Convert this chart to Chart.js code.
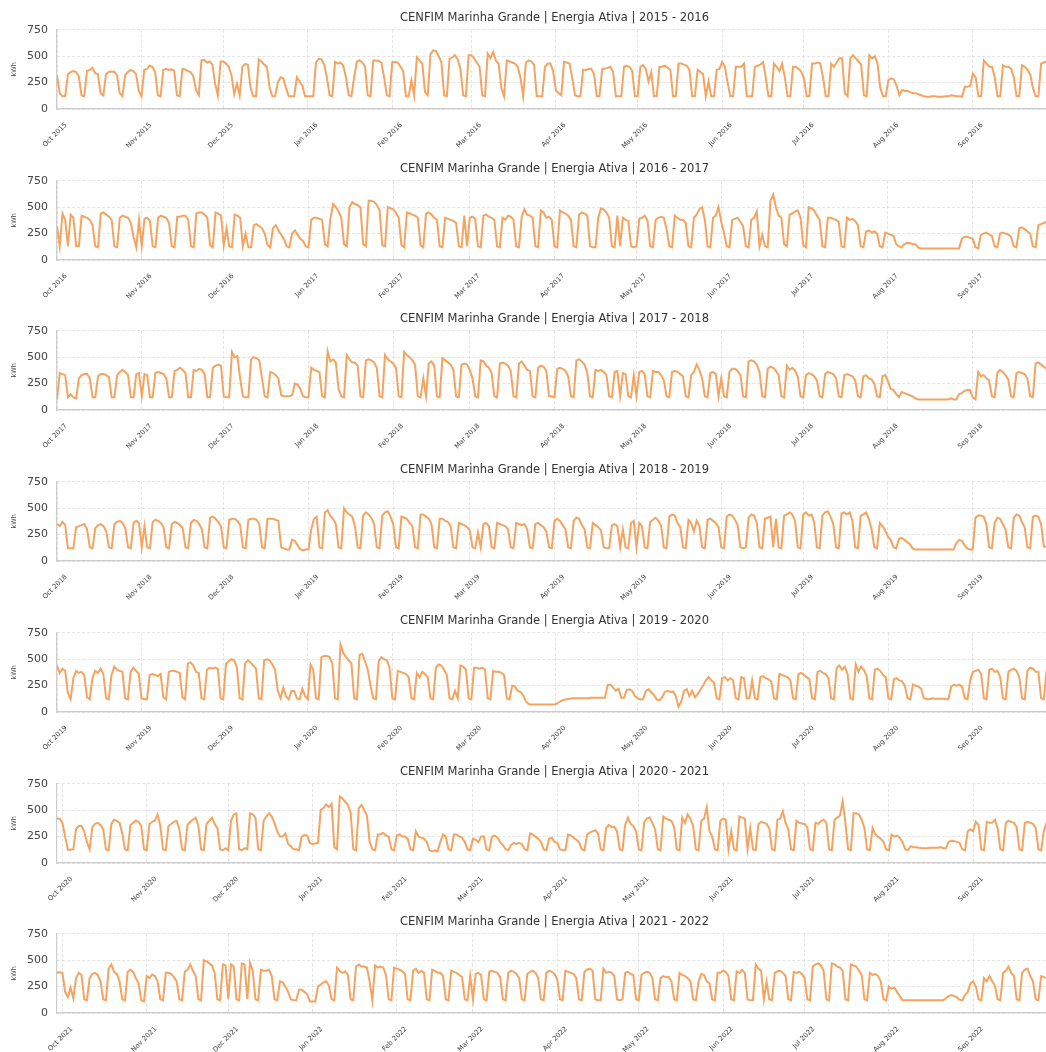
<!DOCTYPE html>
<html>
<head>
<meta charset="utf-8">
<title>CENFIM Marinha Grande | Energia Ativa</title>
<script src="https://cdn.jsdelivr.net/npm/chart.js@4.4.0/dist/chart.umd.min.js"></script>
<style>
  html, body { margin: 0; padding: 0; background: #fff; overflow: hidden; }
  #graficos { position: relative; width: 1046px; height: 1052px; overflow: hidden; }
  .painel { position: absolute; left: 0; }
</style>
</head>
<body>
<div id="graficos"></div>
<script>
// consumo diario (kWh), um ano de 1 Out a 30 Set; uma linha por semana (Seg..Dom)
const energia2015 = [
  320, 150, 120, 120,
  330, 350, 360, 350, 310, 130, 120,
  360, 370, 390, 340, 330, 150, 130,
  330, 350, 355, 350, 320, 150, 120,
  320, 350, 370, 360, 330, 170, 120,
  370, 380, 410, 400, 350, 130, 120,
  370, 380, 370, 375, 360, 130, 120,
  380, 375, 360, 350, 310, 180, 130,
  460, 465, 440, 450, 420, 240, 130,
  450, 450, 430, 400, 320, 140, 240,
  130, 400, 425, 420, 200, 120, 120,
  470, 450, 420, 400, 200, 120, 120,
  250, 300, 290, 200, 120, 120, 120,
  300, 260, 220, 120, 120, 120, 120,
  440, 475, 470, 420, 300, 130, 120,
  445, 430, 440, 410, 300, 130, 120,
  300, 450, 460, 440, 400, 130, 120,
  460, 460, 455, 440, 300, 130, 120,
  445, 445, 440, 400, 360, 120, 120,
  270, 130, 490, 460, 430, 160, 130,
  520, 555, 550, 500, 445, 130, 120,
  475, 490, 510, 470, 380, 130, 120,
  510, 510, 480, 440, 400, 130, 120,
  525, 480, 540, 460, 430, 200, 120,
  460, 450, 440, 430, 400, 300, 120,
  440, 460, 450, 420, 120, 120, 120,
  400, 430, 430, 360, 180, 150, 130,
  445, 440, 430, 300, 130, 120, 120,
  370, 370, 380, 380, 330, 120, 120,
  380, 380, 390, 400, 350, 120, 120,
  120, 400, 410, 400, 360, 120, 120,
  400, 415, 380, 260, 350, 120, 120,
  400, 400, 410, 390, 370, 120, 120,
  430, 430, 420, 410, 370, 120, 120,
  370, 350, 330, 120, 260, 120, 120,
  370, 380, 445, 400, 250, 120, 120,
  400, 400, 400, 430, 120, 120, 120,
  400, 410, 420, 445, 300, 120, 120,
  430, 400, 360, 430, 300, 120, 120,
  400, 400, 380, 355, 290, 120, 120,
  430, 430, 440, 430, 300, 120, 120,
  430, 400, 440, 480, 480, 150, 120,
  480, 510, 480, 450, 420, 130, 120,
  510, 480, 500, 430, 200, 120, 120,
  275, 290, 280, 220, 130, 180, 170,
  170, 160, 150, 150, 140, 130, 120,
  115, 115, 120, 120, 115, 115, 115,
  120, 120, 130, 125, 120, 120, 115,
  210, 210, 220, 335, 300, 120, 120,
  460, 430, 400, 400, 300, 120, 120,
  415, 400, 400, 380, 300, 120, 120,
  415, 400, 370, 330, 200, 120, 120,
  430, 440, 450, 440, 430
];

const energia2016 = [
  320, 130,
  440, 380, 130, 430, 400, 130, 130,
  420, 410, 400, 380, 330, 130, 120,
  440, 450, 430, 410, 380, 130, 120,
  400, 420, 410, 400, 350, 220, 120,
  380, 130, 390, 400, 370, 130, 120,
  400, 420, 410, 400, 350, 130, 120,
  410, 410, 420, 420, 380, 130, 120,
  440, 450, 450, 430, 400, 140, 120,
  450, 440, 420, 140, 300, 130, 120,
  430, 420, 400, 130, 250, 120, 120,
  330, 340, 320, 300, 250, 140, 120,
  300, 330, 280, 240, 200, 130, 120,
  250, 280, 240, 200, 180, 130, 120,
  380, 400, 400, 390, 380, 150, 130,
  390, 530, 500, 460, 400, 150, 130,
  500, 550, 530, 520, 500, 150, 130,
  560, 560, 550, 520, 470, 140, 130,
  500, 490, 480, 450, 400, 140, 120,
  450, 440, 430, 420, 400, 140, 120,
  440, 450, 430, 400, 380, 130, 120,
  400, 390, 380, 370, 350, 130, 120,
  420, 130, 400, 410, 390, 130, 120,
  420, 430, 410, 400, 380, 130, 120,
  400, 380, 420, 410, 380, 130, 120,
  410, 480, 430, 420, 400, 130, 120,
  470, 450, 400, 410, 380, 130, 120,
  470, 450, 440, 420, 380, 130, 120,
  430, 450, 440, 420, 130, 120, 120,
  400, 490, 480, 450, 400, 130, 120,
  420, 130, 400, 380, 370, 130, 120,
  130, 390, 400, 420, 380, 130, 120,
  380, 400, 410, 400, 290, 130, 120,
  420, 400, 380, 380, 350, 130, 120,
  400, 430, 480, 500, 380, 130, 120,
  400, 420, 500, 360, 260, 130, 120,
  380, 390, 400, 360, 320, 130, 120,
  380, 400, 460, 130, 240, 130, 120,
  560, 620, 500, 420, 400, 150, 130,
  430, 440, 460, 470, 400, 140, 120,
  500, 490, 470, 420, 380, 130, 120,
  400, 400, 390, 380, 360, 130, 120,
  400, 380, 390, 370, 330, 130, 120,
  270, 280, 260, 270, 250, 130, 120,
  260, 250, 240, 230, 150, 130, 120,
  150, 160, 160, 150, 150, 120, 110,
  110, 110, 110, 110, 110, 110, 110,
  110, 110, 110, 110, 110, 110, 110,
  200, 220, 220, 210, 200, 120, 110,
  240, 250, 260, 240, 230, 130, 120,
  250, 260, 250, 240, 220, 130, 120,
  300, 310, 290, 270, 250, 130, 120,
  330, 340, 350, 360, 370, 380
];

const energia2017 = [
  100,
  350, 340, 330, 120, 150, 120, 110,
  300, 330, 340, 340, 300, 120, 120,
  320, 340, 340, 330, 310, 120, 120,
  330, 360, 380, 360, 330, 120, 120,
  340, 350, 130, 340, 330, 120, 120,
  350, 360, 350, 340, 300, 120, 120,
  370, 380, 400, 380, 350, 120, 120,
  380, 370, 390, 380, 340, 120, 120,
  400, 420, 430, 420, 130, 120, 120,
  550, 500, 510, 300, 130, 120, 120,
  480, 500, 490, 470, 300, 130, 120,
  360, 350, 330, 300, 140, 130, 130,
  130, 140, 250, 240, 200, 130, 120,
  120, 400, 380, 370, 360, 130, 120,
  555, 460, 480, 450, 200, 130, 120,
  520, 480, 450, 450, 420, 130, 120,
  470, 480, 470, 450, 400, 130, 120,
  520, 480, 460, 440, 400, 130, 120,
  550, 520, 500, 470, 430, 130, 120,
  300, 130, 440, 460, 420, 130, 120,
  490, 470, 450, 430, 380, 130, 120,
  430, 440, 430, 380, 300, 130, 120,
  470, 460, 420, 400, 350, 130, 120,
  440, 450, 440, 420, 370, 130, 120,
  440, 460, 420, 380, 370, 130, 120,
  400, 420, 410, 370, 130, 130, 120,
  390, 400, 390, 370, 320, 130, 120,
  470, 480, 460, 430, 350, 130, 120,
  380, 370, 380, 360, 330, 130, 120,
  360, 370, 130, 350, 340, 130, 120,
  330, 130, 360, 370, 340, 130, 120,
  370, 360, 360, 330, 280, 130, 120,
  360, 370, 360, 340, 320, 130, 120,
  330, 360, 430, 380, 300, 130, 120,
  350, 360, 340, 130, 300, 130, 120,
  360, 390, 390, 370, 330, 130, 120,
  460, 470, 460, 430, 360, 130, 120,
  390, 410, 400, 370, 330, 130, 120,
  420, 380, 400, 370, 320, 130, 120,
  330, 350, 340, 320, 280, 130, 120,
  340, 360, 350, 340, 300, 130, 120,
  330, 340, 330, 320, 280, 130, 120,
  320, 330, 300, 290, 250, 130, 120,
  320, 330, 270, 200, 190, 150, 120,
  170, 160, 150, 140, 130, 110, 100,
  100, 100, 100, 100, 100, 100, 100,
  100, 100, 100, 100, 110, 100, 100,
  150, 160, 180, 190, 190, 120, 100,
  360, 320, 330, 300, 280, 130, 120,
  350, 380, 360, 330, 290, 130, 120,
  350, 360, 350, 340, 300, 130, 120,
  440, 450, 430, 410, 390, 130, 120
];

const energia2018 = [
  350, 330, 370, 340, 120, 120, 120,
  320, 330, 340, 350, 300, 130, 120,
  310, 340, 350, 330, 280, 130, 120,
  350, 370, 380, 360, 310, 130, 120,
  360, 380, 360, 130, 330, 130, 120,
  370, 390, 380, 360, 320, 130, 120,
  350, 370, 360, 340, 310, 130, 120,
  360, 390, 380, 350, 300, 130, 120,
  410, 420, 400, 370, 330, 130, 120,
  390, 400, 400, 380, 340, 130, 120,
  390, 400, 400, 390, 350, 130, 120,
  400, 400, 400, 390, 380, 130, 120,
  110, 110, 200, 190, 150, 110, 100,
  110, 110, 300, 400, 420, 130, 120,
  460, 480, 430, 400, 350, 130, 120,
  500, 460, 440, 420, 330, 130, 120,
  430, 460, 440, 410, 350, 130, 120,
  430, 460, 470, 420, 350, 130, 120,
  420, 410, 400, 360, 330, 130, 120,
  440, 440, 420, 400, 350, 130, 120,
  400, 400, 380, 370, 330, 130, 120,
  360, 350, 340, 320, 290, 130, 120,
  270, 130, 350, 360, 330, 130, 120,
  360, 350, 340, 330, 300, 130, 120,
  360, 350, 340, 350, 300, 130, 120,
  350, 360, 340, 320, 280, 130, 120,
  380, 400, 380, 340, 300, 130, 120,
  380, 410, 400, 340, 300, 130, 120,
  360, 340, 320, 290, 130, 120, 120,
  340, 350, 330, 130, 300, 130, 120,
  360, 380, 130, 360, 330, 130, 120,
  370, 390, 410, 380, 330, 130, 120,
  420, 440, 430, 360, 320, 130, 120,
  390, 360, 280, 380, 330, 130, 120,
  390, 400, 380, 360, 320, 130, 120,
  420, 440, 430, 390, 340, 130, 120,
  130, 410, 440, 430, 360, 130, 120,
  400, 410, 420, 130, 400, 130, 120,
  430, 440, 460, 440, 380, 130, 120,
  440, 460, 430, 440, 370, 130, 120,
  430, 460, 470, 420, 350, 130, 120,
  450, 460, 440, 460, 380, 130, 120,
  430, 440, 460, 400, 300, 130, 120,
  360, 330, 290, 230, 200, 130, 120,
  210, 220, 200, 180, 160, 120, 110,
  110, 110, 110, 110, 110, 110, 110,
  110, 110, 110, 110, 110, 110, 110,
  170, 200, 190, 150, 120, 110, 110,
  410, 430, 430, 420, 350, 130, 120,
  360, 410, 400, 350, 300, 130, 120,
  410, 440, 430, 370, 320, 130, 120,
  420, 430, 420, 350, 140, 130, 120,
  380
];

const energia2019 = [
  440, 370, 410, 390, 180, 120,
  320, 390, 370, 380, 350, 140, 120,
  320, 390, 370, 410, 360, 130, 120,
  350, 430, 400, 390, 380, 130, 120,
  380, 420, 390, 360, 130, 120, 120,
  350, 360, 350, 340, 360, 140, 120,
  380, 390, 390, 380, 370, 140, 120,
  460, 470, 440, 380, 370, 130, 120,
  400, 420, 410, 420, 410, 130, 120,
  460, 480, 500, 490, 420, 130, 120,
  460, 490, 470, 440, 410, 130, 120,
  490, 500, 490, 450, 400, 200, 130,
  230, 150, 120, 200, 200, 130, 120,
  220, 150, 120, 450, 400, 130, 120,
  520, 530, 530, 520, 460, 130, 120,
  640, 560, 520, 490, 460, 130, 120,
  540, 550, 480, 400, 250, 130, 120,
  480, 520, 500, 490, 420, 130, 120,
  390, 380, 370, 360, 330, 130, 120,
  370, 330, 380, 360, 330, 130, 120,
  420, 450, 440, 400, 350, 130, 120,
  200, 130, 440, 430, 400, 130, 120,
  420, 420, 410, 420, 400, 130, 120,
  390, 380, 380, 370, 350, 130, 120,
  250, 240, 200, 190, 160, 100, 75,
  70, 70, 70, 70, 70, 70, 70,
  70, 70, 75, 90, 105, 115, 120,
  125, 130, 130, 130, 130, 130, 130,
  130, 135, 135, 135, 135, 135, 135,
  255, 260, 230, 200, 220, 135, 135,
  210, 215, 200, 150, 130, 120, 120,
  200, 215, 185, 160, 120, 110, 140,
  190, 200, 190, 195, 150, 50, 100,
  200, 215, 150, 200, 140, 170, 210,
  250, 300, 330, 300, 280, 130, 120,
  320, 330, 300, 320, 300, 130, 120,
  330, 320, 130, 130, 300, 130, 120,
  330, 340, 320, 310, 290, 130, 120,
  360, 350, 340, 330, 300, 130, 120,
  360, 370, 350, 330, 310, 130, 120,
  380, 390, 370, 360, 320, 130, 120,
  420, 440, 400, 430, 360, 130, 120,
  450, 380, 430, 400, 340, 130, 120,
  400, 410, 390, 350, 330, 130, 120,
  310, 320, 300, 290, 250, 130, 120,
  260, 250, 240, 220, 130, 120, 120,
  130, 125, 125, 125, 125, 120, 120,
  240, 260, 250, 260, 240, 130, 120,
  300, 380, 390, 400, 360, 130, 120,
  400, 410, 380, 390, 330, 130, 120,
  380, 400, 410, 390, 330, 130, 120,
  390, 420, 410, 380, 380, 130, 120,
  390, 380, 150
];

// este ano comeca a 29 Set
const energia2020 = [
  420, 420,
  380, 250, 125, 125,
  130, 320, 350, 350, 300, 200, 130,
  340, 370, 380, 360, 320, 130, 120,
  370, 410, 400, 380, 280, 130, 120,
  360, 380, 400, 390, 350, 130, 120,
  370, 390, 400, 460, 350, 130, 120,
  350, 370, 390, 400, 320, 130, 120,
  360, 390, 410, 430, 350, 130, 120,
  370, 400, 430, 370, 330, 130, 120,
  140, 120, 400, 460, 470, 130, 120,
  140, 130, 470, 460, 430, 130, 120,
  400, 440, 470, 440, 380, 300, 250,
  250, 280, 180, 160, 130, 130, 120,
  250, 265, 260, 190, 180, 185, 190,
  500, 520, 555, 530, 560, 150, 130,
  630, 610, 580, 550, 480, 130, 120,
  520, 550, 500, 450, 200, 130, 120,
  270, 270, 285, 260, 250, 130, 120,
  260, 270, 250, 250, 230, 130, 120,
  300, 250, 240, 230, 200, 120, 110,
  120, 110, 200, 270, 250, 130, 120,
  270, 270, 250, 240, 200, 130, 120,
  230, 220, 200, 250, 250, 130, 120,
  250, 260, 240, 200, 170, 130, 120,
  170, 190, 180, 190, 180, 130, 120,
  280, 270, 250, 230, 200, 130, 120,
  230, 240, 200, 190, 130, 120, 120,
  270, 260, 240, 220, 200, 130, 120,
  270, 290, 300, 310, 280, 130, 120,
  330, 360, 340, 340, 300, 130, 120,
  360, 430, 370, 350, 300, 130, 120,
  390, 420, 430, 380, 320, 130, 120,
  440, 420, 410, 400, 340, 130, 120,
  430, 380, 460, 420, 350, 130, 120,
  400, 420, 530, 300, 250, 130, 120,
  400, 420, 410, 130, 300, 130, 120,
  440, 430, 420, 130, 330, 130, 120,
  370, 390, 380, 370, 330, 130, 120,
  410, 420, 490, 380, 320, 130, 120,
  400, 380, 375, 370, 340, 130, 120,
  380, 370, 395, 410, 380, 130, 120,
  410, 430, 450, 585, 380, 130, 120,
  470, 470, 460, 410, 330, 130, 120,
  330, 270, 250, 230, 200, 130, 120,
  270, 250, 260, 240, 200, 130, 120,
  160, 150, 150, 145, 140, 140, 140,
  145, 145, 145, 145, 150, 140, 140,
  200, 210, 205, 200, 190, 130, 120,
  300, 320, 300, 390, 360, 130, 120,
  390, 380, 380, 410, 330, 130, 120,
  380, 400, 390, 380, 340, 130, 120,
  380, 390, 380, 370, 330, 130, 120,
  300, 380, 390, 380
];

// este ano comeca a 29 Set
const energia2021 = [
  380, 385,
  380, 200, 150,
  240, 140, 330, 380, 360, 130, 120,
  330, 370, 380, 360, 300, 130, 120,
  420, 460, 390, 370, 300, 130, 120,
  390, 410, 390, 330, 280, 120, 110,
  350, 330, 365, 350, 300, 130, 120,
  380, 380, 370, 340, 300, 130, 120,
  390, 410, 460, 400, 350, 130, 120,
  500, 490, 470, 450, 380, 130, 120,
  460, 450, 130, 460, 440, 130, 120,
  470, 460, 130, 475, 400, 130, 120,
  410, 400, 400, 410, 350, 130, 120,
  300, 290, 250, 200, 130, 120, 120,
  220, 220, 200, 180, 110, 110, 110,
  250, 270, 290, 300, 260, 130, 120,
  430, 400, 380, 395, 360, 130, 120,
  440, 460, 440, 440, 430, 300, 120,
  450, 430, 440, 430, 360, 130, 120,
  430, 420, 410, 395, 370, 130, 120,
  400, 420, 380, 400, 380, 130, 120,
  410, 400, 380, 380, 350, 130, 120,
  400, 390, 380, 360, 340, 130, 120,
  350, 130, 370, 380, 360, 130, 120,
  390, 400, 390, 380, 340, 130, 120,
  380, 400, 390, 370, 330, 130, 120,
  370, 390, 400, 380, 330, 130, 120,
  380, 400, 390, 370, 320, 130, 120,
  400, 390, 380, 370, 330, 130, 120,
  390, 410, 420, 400, 130, 120, 120,
  420, 380, 390, 380, 350, 130, 120,
  130, 380, 390, 370, 360, 130, 120,
  360, 380, 390, 380, 330, 130, 120,
  330, 350, 340, 340, 300, 130, 120,
  380, 360, 350, 330, 300, 130, 120,
  300, 370, 360, 300, 280, 130, 120,
  380, 380, 400, 390, 350, 130, 120,
  395, 380, 410, 380, 130, 120, 120,
  460, 420, 400, 130, 300, 130, 120,
  380, 395, 400, 380, 350, 130, 120,
  390, 380, 390, 370, 330, 130, 120,
  440, 460, 470, 450, 400, 130, 120,
  470, 460, 440, 430, 400, 130, 120,
  460, 450, 440, 400, 360, 130, 120,
  380, 360, 370, 350, 300, 130, 120,
  250, 230, 240, 200, 160, 120, 120,
  120, 120, 120, 120, 120, 120, 120,
  120, 120, 120, 120, 120, 120, 120,
  140, 160, 170, 160, 150, 125, 120,
  170, 200, 280, 300, 250, 130, 120,
  330, 300, 350, 300, 260, 130, 120,
  380, 400, 440, 380, 350, 130, 120,
  380, 410, 420, 350, 300, 130, 120,
  350, 340, 330, 340, 330
];

// anos de inicio de cada grafico (Out a Set)
const anosInicio = [2015, 2016, 2017, 2018, 2019, 2020, 2021];
const series = [energia2015, energia2016, energia2017, energia2018, energia2019, energia2020, energia2021];
// dias de Setembro que aparecem antes de 1 Out em cada serie
const diasAntes = [0, 0, 0, 0, 0, 2, 2];
const nomesMeses = ['Jan', 'Feb', 'Mar', 'Apr', 'May', 'Jun', 'Jul', 'Aug', 'Sep', 'Oct', 'Nov', 'Dec'];
const valoresEixoY = [0, 250, 500, 750];

Chart.defaults.font.family = "'DejaVu Sans', sans-serif";

// marcas mensais: dia desde 1 Out + texto
function marcasMensais(ano) {
    const inicio = Date.UTC(ano, 9, 1);
    const marcas = [];
    for (let m = 0; m < 12; m++) {
        const d = new Date(Date.UTC(ano, 9 + m, 1));
        marcas.push({
            dia: Math.round((d.getTime() - inicio) / 86400000),
            texto: nomesMeses[d.getUTCMonth()] + ' ' + d.getUTCFullYear()
        });
    }
    return marcas;
}

document.addEventListener('DOMContentLoaded', function() {
    const caixa = document.getElementById('graficos');
    const grelha = { color: '#dcdcdc', lineWidth: 0.8, drawTicks: false };
    const borda = { display: true, color: '#cccccc', width: 1.2, dash: [3, 2] };

    anosInicio.forEach(function(ano, i) {
        const valores = series[i];
        const antes = diasAntes[i];
        const marcas = marcasMensais(ano);

        const canvas = document.createElement('canvas');
        canvas.className = 'painel';
        canvas.width = 1056;
        canvas.height = 150;
        canvas.style.top = Math.round(i * 150.7) + 'px';
        caixa.appendChild(canvas);

        new Chart(canvas.getContext('2d'), {
            type: 'line',
            data: {
                datasets: [{
                    data: valores.map((v, d) => ({ x: d - antes, y: v })),
                    borderColor: '#F4A460',
                    borderWidth: 2,
                    pointRadius: 0,
                    fill: false,
                    tension: 0
                }]
            },
            options: {
                responsive: false,
                animation: false,
                devicePixelRatio: 1,
                layout: { padding: { left: 0, right: 4, top: 0, bottom: 0 } },
                plugins: {
                    legend: { display: false },
                    tooltip: { enabled: false },
                    title: {
                        display: true,
                        fullSize: false,
                        text: 'CENFIM Marinha Grande | Energia Ativa | ' + ano + ' - ' + (ano + 1),
                        color: '#333',
                        font: { size: 11.5, weight: 'normal' },
                        padding: { top: 11, bottom: 5 }
                    }
                },
                scales: {
                    x: {
                        type: 'linear',
                        min: -antes,
                        max: valores.length - 1 - antes,
                        afterBuildTicks: function(s) { s.ticks = marcas.map(m => ({ value: m.dia })); },
                        afterFit: function(s) { s.height = 41; },
                        grid: grelha,
                        border: borda,
                        ticks: {
                            autoSkip: false,
                            minRotation: 45,
                            maxRotation: 45,
                            padding: 12,
                            labelOffset: 9,
                            color: '#444',
                            font: { size: 6.8 },
                            callback: function(v) {
                                const m = marcas.find(k => k.dia === v);
                                return m ? m.texto : '';
                            }
                        }
                    },
                    y: {
                        min: valoresEixoY[0],
                        max: valoresEixoY[valoresEixoY.length - 1],
                        afterBuildTicks: function(s) { s.ticks = valoresEixoY.map(v => ({ value: v })); },
                        afterFit: function(s) { s.width = 57; },
                        grid: grelha,
                        border: borda,
                        ticks: { padding: 9, color: '#444', font: { size: 11 } },
                        title: {
                            display: true,
                            text: 'kWh',
                            color: '#444',
                            font: { size: 6.5 },
                            padding: { top: 10, bottom: 0 }
                        }
                    }
                }
            }
        });
    });
});
</script>
</body>
</html>
